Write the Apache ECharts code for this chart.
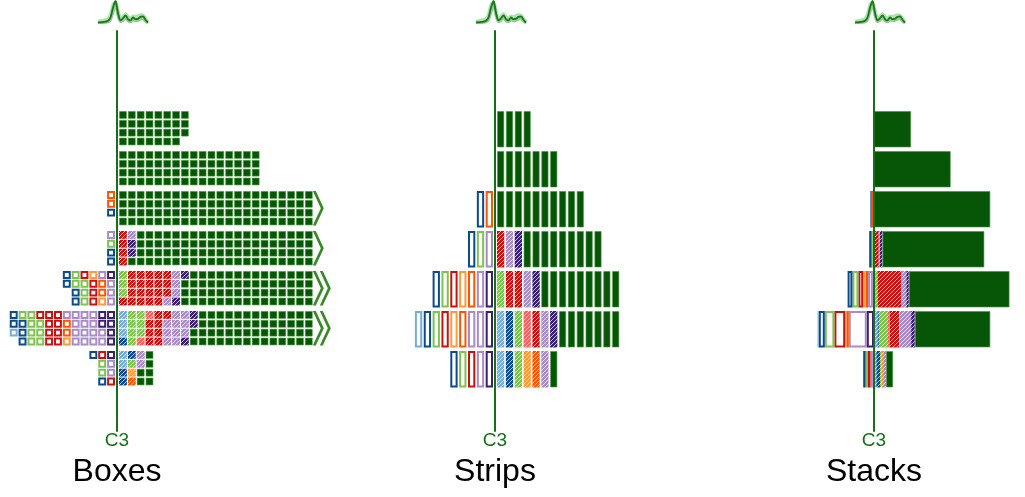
<!DOCTYPE html>
<html><head><meta charset="utf-8">
<script src="https://cdn.jsdelivr.net/npm/echarts@6/dist/echarts.min.js"></script>
<style>html,body{margin:0;padding:0;background:#fff}#c{width:1025px;height:497px}</style>
</head><body><div id="c"></div>
<script>
// ---------------- DATA ----------------
const categories = ['lightBlue','blue','lightGreen','pink','red','lightOrange','orange','lightPurple','purple'];
const categoryColors = ['#78acd6','#0b4a8c','#7ec34f','#f8605e','#cc1010','#fd9a3a','#ff5500','#a98bc6','#3c1f6e'];
// rows, top to bottom; counts per category (order of `categories`)
const leftCounts = [
  [0,0,0,0,0,0,0,0,0],
  [0,0,0,0,0,0,0,0,0],
  [0,1,0,0,0,0,2,0,0],
  [0,2,1,0,0,0,0,1,0],
  [0,4,5,0,4,2,2,4,1],
  [1,5,8,0,9,1,2,15,6],
  [0,2,2,0,2,0,0,2,1]
];
const rightCounts = [
  [0,0,0,0,0,0,0,0,0],
  [0,0,0,0,0,0,0,0,0],
  [0,0,0,0,0,0,0,0,0],
  [0,0,0,0,4,0,0,1,2],
  [0,0,3,0,20,0,0,4,2],
  [3,1,7,2,8,0,0,10,3],
  [2,3,1,0,0,1,1,2,0]
];
const greenCounts = [31,64,97,85,84,63,6];
const overflowMarks = [0,0,1,1,2,2,0];
const sparkMain  = [0.02,0.03,0.04,0.06,0.10,0.25,0.70,1.00,0.45,0.12,0.22,0.35,0.18,0.12,0.25,0.18,0.20,0.28,0.30,0.15,0.02];
const sparkUpper = [0.08,0.10,0.12,0.15,0.20,0.40,0.85,0.95,0.60,0.25,0.30,0.42,0.30,0.22,0.32,0.30,0.32,0.38,0.36,0.22,0.06];
const sparkLower = [0.00,0.01,0.02,0.03,0.05,0.15,0.50,0.85,0.35,0.06,0.12,0.25,0.10,0.06,0.15,0.10,0.12,0.18,0.20,0.08,0.00];
const panelTitles = ['Boxes','Strips','Stacks'];
const axisName = 'C3';

// ---------------- STYLE / LAYOUT ----------------
const GREEN = '#075507', GREEN_EDGE = 'rgba(70,150,60,0.6)', AXIS_GREEN = '#16701a', CHEV = '#3a8a2a';
const AXIS_X = [117, 495, 874];
const PITCH = 8.85, BOX = 7.9, GAP = 2, ROWPX = 40, STRIP_W = 7.3, STRIP_H = 36.5;
const STACK_PX = 1.2, MAX_COLS = 22, STRIP_UNIT = 10;

function hatchFill(color){
  const c = document.createElement('canvas'); c.width = 4; c.height = 4;
  const g = c.getContext('2d');
  g.fillStyle = color; g.fillRect(0,0,4,4);
  g.strokeStyle = 'rgba(255,255,255,0.7)'; g.lineWidth = 1;
  g.beginPath();
  g.moveTo(0,4); g.lineTo(4,0);
  g.moveTo(-1,1); g.lineTo(1,-1);
  g.moveTo(3,5); g.lineTo(5,3);
  g.stroke();
  return {image: c, repeat: 'repeat'};
}
const hatchFills = categoryColors.map(hatchFill);

// --------- build items [x0,y0,x1,y1,kind,cat] kind:0 solid,1 hatch,2 outline,3 chevron
function seqRight(r){
  const s = [];
  categories.forEach((_, i) => { for (let k = 0; k < rightCounts[r][i]; k++) s.push([1, i]); });
  for (let k = 0; k < greenCounts[r]; k++) s.push([0, -1]);
  return s;
}
function seqLeft(r){
  const s = [];
  for (let i = categories.length - 1; i >= 0; i--) for (let k = 0; k < leftCounts[r][i]; k++) s.push([2, i]);
  return s;
}
function boxItems(){
  const out = [], g = GAP/PITCH, b = BOX/PITCH, sp = PITCH/ROWPX, bh = BOX/ROWPX;
  for (let r = 0; r < greenCounts.length; r++){
    seqRight(r).slice(0, MAX_COLS*4).forEach(([kind, cat], k) => {
      const col = Math.floor(k/4), sub = k%4;
      const x0 = col + g, y0 = r + sub*sp;
      out.push([x0, y0, x0 + b, y0 + bh, kind, cat]);
    });
    seqLeft(r).forEach(([kind, cat], k) => {
      const col = Math.floor(k/4), sub = k%4;
      const x1 = -(col + g), y0 = r + sub*sp;
      out.push([x1 - b, y0, x1, y0 + bh, kind, cat]);
    });
    if (overflowMarks[r] > 0){
      const x0 = MAX_COLS + g - 0.1;
      out.push([x0, r, x0 + 1, r + (3*PITCH + BOX)/ROWPX, 3, overflowMarks[r]]);
    }
  }
  return out;
}
function stripItems(){
  const out = [], g = GAP/PITCH, w = STRIP_W/PITCH, h = STRIP_H/ROWPX;
  for (let r = 0; r < greenCounts.length; r++){
    let c = 0;
    categories.forEach((_, i) => {
      const n = Math.ceil(rightCounts[r][i]/STRIP_UNIT);
      for (let k = 0; k < n; k++, c++) out.push([c + g, r, c + g + w, r + h, 1, i]);
    });
    const ng = Math.ceil(greenCounts[r]/STRIP_UNIT);
    for (let k = 0; k < ng; k++, c++) out.push([c + g, r, c + g + w, r + h, 0, -1]);
    let d = 0;
    for (let i = categories.length - 1; i >= 0; i--){
      const n = Math.ceil(leftCounts[r][i]/STRIP_UNIT);
      for (let k = 0; k < n; k++, d++) out.push([-(d + g) - w, r, -(d + g), r + h, 2, i]);
    }
  }
  return out;
}
function stackItems(){
  const out = [], h = STRIP_H/ROWPX;
  for (let r = 0; r < greenCounts.length; r++){
    let x = 0;
    categories.forEach((_, i) => {
      const n = rightCounts[r][i];
      if (n > 0){ out.push([x, r, x + n, r + h, 1, i]); x += n; }
    });
    out.push([x, r, x + greenCounts[r], r + h, 0, -1]);
    let xl = 0;
    for (let i = categories.length - 1; i >= 0; i--){
      const n = leftCounts[r][i];
      if (n > 0){ out.push([xl - n, r, xl, r + h, 2, i]); xl -= n; }
    }
  }
  return out;
}

function renderItem(params, api){
  const kind = api.value(4), cat = api.value(5);
  const a = api.coord([api.value(0), api.value(1)]);
  const b = api.coord([api.value(2), api.value(3)]);
  const x = Math.min(a[0], b[0]), y = Math.min(a[1], b[1]);
  const w = Math.abs(b[0] - a[0]), h = Math.abs(b[1] - a[1]);
  if (kind === 0){
    return {type:'rect', shape:{x:x+0.5, y:y+0.5, width:w-1, height:h-1}, style:{fill:GREEN, stroke:GREEN_EDGE, lineWidth:1}};
  }
  if (kind === 1){
    return {type:'rect', shape:{x, y, width:w, height:h}, style:{fill:hatchFills[cat]}};
  }
  if (kind === 2){
    if (w < 4) return {type:'rect', shape:{x, y, width:w, height:h}, style:{fill:categoryColors[cat]}};
    return {type:'rect', shape:{x:x+1, y:y+1, width:w-2, height:h-2}, style:{fill:'#fff', stroke:categoryColors[cat], lineWidth:2}};
  }
  // chevrons
  const children = [], t = 3, cw = 8, mid = y + h/2;
  for (let k = 0; k < cat; k++){
    const x0 = x + k*7;
    children.push({type:'polygon', shape:{points:[[x0,y],[x0+t,y],[x0+t+cw,mid],[x0+t,y+h],[x0,y+h],[x0+cw,mid]]}, style:{fill:CHEV}});
  }
  return {type:'group', children};
}

// ---------------- CHART ----------------
const panelAxes = [
  {left: AXIS_X[0] - 13*PITCH, width: 38*PITCH, min: -13, max: 25},
  {left: AXIS_X[1] - 15*PITCH, width: 35*PITCH, min: -15, max: 20},
  {left: AXIS_X[2] - 60*STACK_PX, width: 180*STACK_PX, min: -60, max: 120}
];
const grids = [], xAxes = [], yAxes = [], series = [];
panelAxes.forEach((p, i) => {
  grids.push({left: p.left, width: p.width, top: 31, height: 400});
  xAxes.push({type:'value', gridIndex: i, min: p.min, max: p.max, show: false});
  yAxes.push({type:'value', gridIndex: i, min: -2, max: 8, inverse: true, z: 10,
    axisLine:{show:true, onZero:true, lineStyle:{color:AXIS_GREEN, width:2}},
    axisTick:{show:false}, axisLabel:{show:false}, splitLine:{show:false}});
  series.push({type:'custom', xAxisIndex:i, yAxisIndex:i, renderItem, silent:true,
    encode:{x:[0,2], y:[1,3]},
    data: i === 0 ? boxItems() : i === 1 ? stripItems() : stackItems()});
});
panelAxes.forEach((p, i) => {
  const gi = 3 + i;
  grids.push({left: AXIS_X[i] - 19, width: 50, top: 1, height: 22});
  xAxes.push({type:'value', gridIndex: gi, min: 0, max: sparkMain.length - 1, show: false});
  yAxes.push({type:'value', gridIndex: gi, min: 0, max: 1, show: false});
  [[sparkUpper,'rgba(110,200,110,0.55)',3],[sparkLower,'rgba(60,160,60,0.55)',3],[sparkMain,'#1a761a',1.8]].forEach(([arr, col, lw]) => {
    series.push({type:'line', xAxisIndex:gi, yAxisIndex:gi, silent:true, showSymbol:false, smooth:0.3,
      data: arr.map((v, k) => [k, v]), lineStyle:{color:col, width:lw}});
  });
});
const chart = echarts.init(document.getElementById('c'), null, {renderer:'canvas'});
chart.setOption({
  animation: false,
  grid: grids, xAxis: xAxes, yAxis: yAxes, series,
  graphic: [
    ...AXIS_X.map((x, i) => ({type:'text', x: x, y: 441, silent:true,
      style:{text: axisName, fill: AXIS_GREEN, font: '19px "Liberation Sans", Arial, sans-serif', textAlign:'center', textVerticalAlign:'middle'}})),
    ...AXIS_X.map((x, i) => ({type:'text', x: x, y: 472, silent:true,
      style:{text: panelTitles[i], fill: '#000', font: '32px "Liberation Sans", Arial, sans-serif', textAlign:'center', textVerticalAlign:'middle'}}))
  ]
});
</script></body></html>
